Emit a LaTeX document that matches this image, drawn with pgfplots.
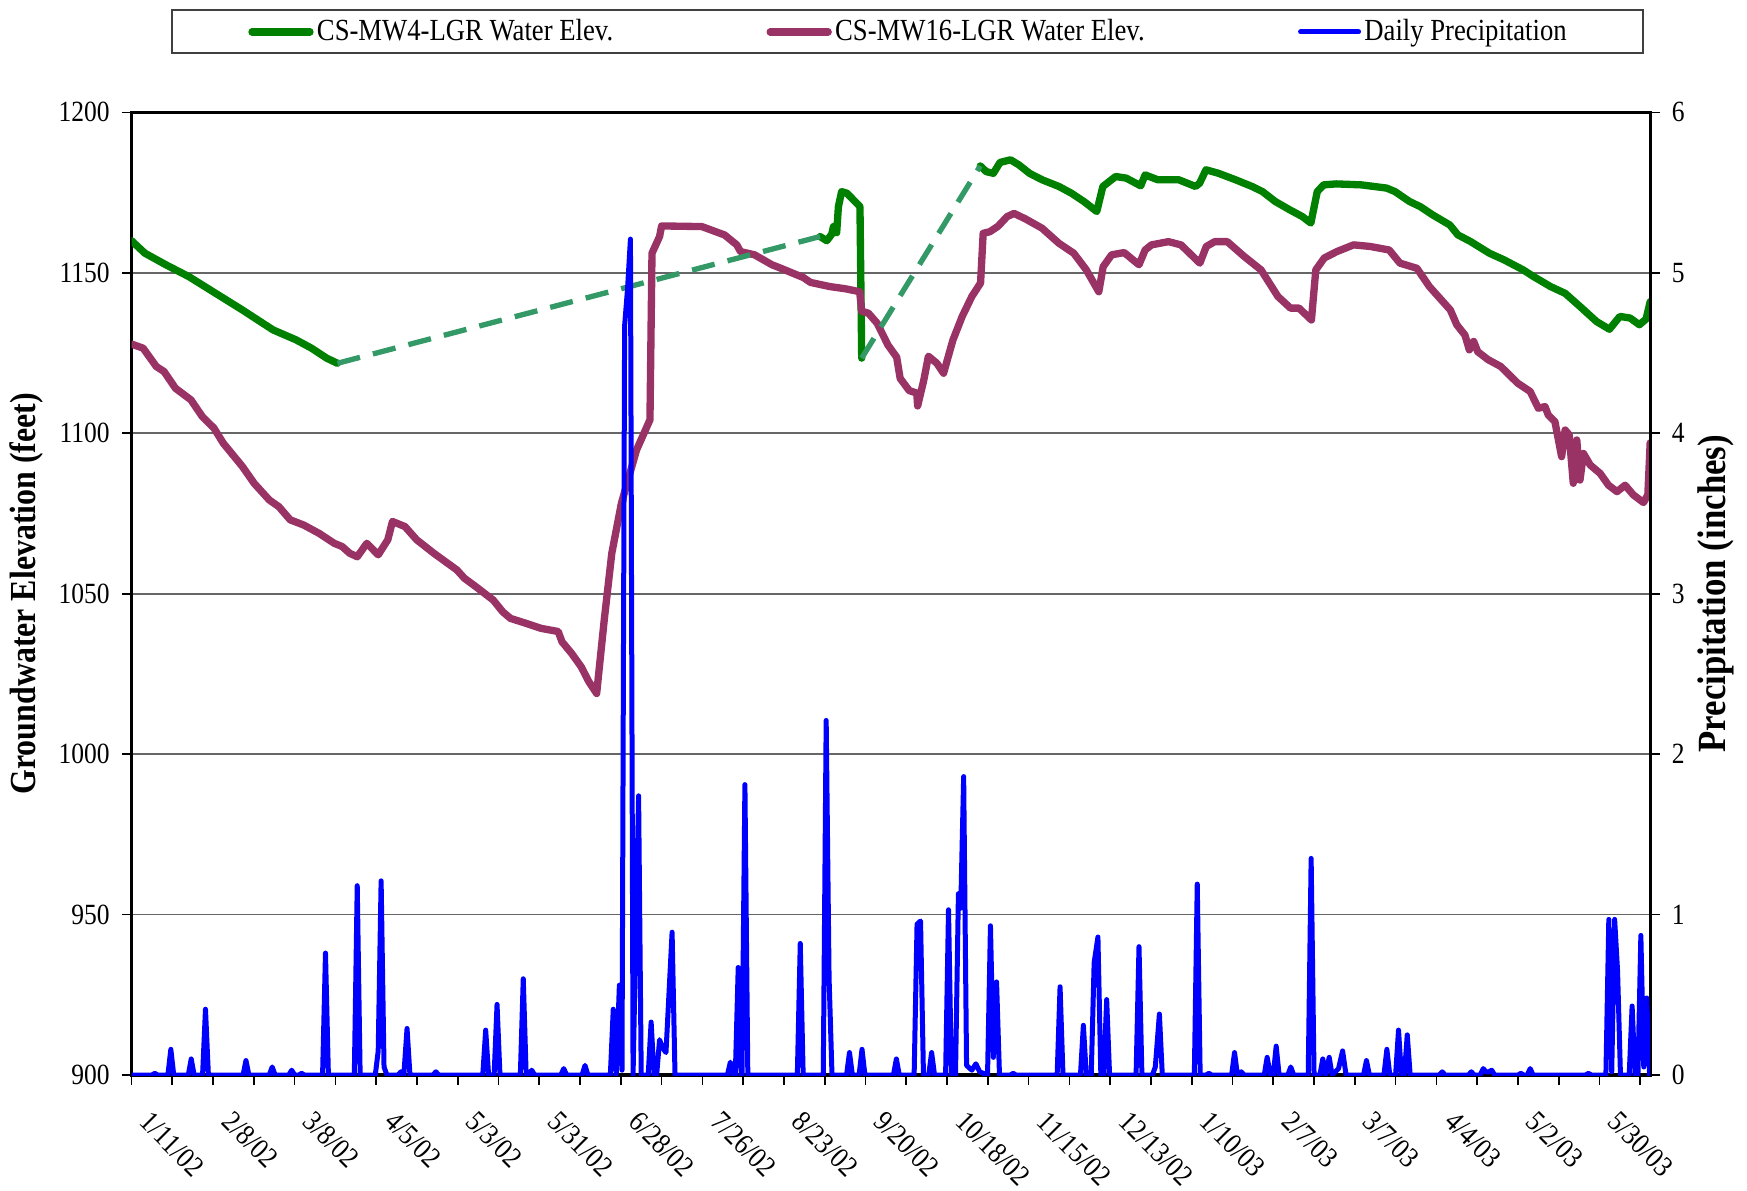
\documentclass[border=0pt]{standalone}
\usepackage{fontspec}
\setmainfont{Liberation Serif}[FakeStretch=0.87]
\usepackage{pgfplots}
\pgfplotsset{compat=1.18}
\definecolor{mwgreen}{RGB}{0,128,0}
\definecolor{mwpurple}{RGB}{153,51,102}
\definecolor{dashgreen}{RGB}{51,153,102}
\definecolor{precip}{RGB}{0,0,255}
\begin{document}
\begin{tikzpicture}
\path[use as bounding box] (0,0) rectangle (524.1pt,357pt);
\pgfplotsset{
  base/.style={
    at={(39.45pt,34.5pt)}, anchor=south west,
    scale only axis, width=455.6pt, height=288.8pt,
    xmin=-14, xmax=507.4,
    tick align=outside,
    major tick length=3pt, minor tick length=3pt,
    tick style={black, line width=0.5pt},
    minor tick style={black, line width=0.5pt},
    axis line style={black, line width=1pt},
    ticklabel style={font=\fontsize{8.8}{10}\selectfont},
    /pgf/number format/assume math mode=true,
    /pgf/number format/1000 sep={},
  },
}
\begin{axis}[base,
  ymin=900, ymax=1200, ytick={900,950,...,1200},
  xtick={0,28,...,504},
  minor xtick={-14,14,...,490},
  xticklabels={1/11/02,2/8/02,3/8/02,4/5/02,5/3/02,5/31/02,6/28/02,7/26/02,8/23/02,9/20/02,10/18/02,11/15/02,12/13/02,1/10/03,2/7/03,3/7/03,4/4/03,5/2/03,5/30/03},
  xtick pos=left, ytick pos=left,
  ymajorgrids, grid style={black!60, line width=0.5pt},
  xticklabel style={xshift=-6pt, yshift=-2.5pt, rotate=-45, anchor=north west},
  every axis y label/.style={at={(axis description cs:0,0.5)}, xshift=-31.45pt, rotate=90, anchor=center, font=\bfseries\fontsize{11}{13}\selectfont},
  ylabel={Groundwater Elevation (feet)},
  unbounded coords=jump,
  legend columns=3,
  legend style={
    at={(axis description cs:0.5,1)}, anchor=south, xshift=5pt, yshift=17.4pt,
    draw=black!75, line width=0.6pt, fill=white,
    font=\fontsize{9.2}{10}\selectfont,
    inner xsep=23pt, inner ysep=1.5pt,
    /tikz/every odd column/.append style={column sep=1pt},
    /tikz/every even column/.append style={column sep=46pt},
    nodes={inner ysep=1pt, inner xsep=0pt},
  },
  legend image code/.code={\draw[#1, line cap=round] (0pt,0pt) -- (17.4pt,0pt);},
]
\addplot[mwgreen, line width=2.2pt, line join=round, line cap=round] table {
x y
-14 1160.0
-9.4 1156.1
-2.2 1152.5
5.7 1148.8
14.9 1143.6
24.1 1138.4
34.6 1132.2
42.5 1129.1
47.8 1126.5
53.0 1123.4
56.7 1121.8
100 nan
222.4 1161.3
224.7 1160.0
226.4 1162.0
227.0 1164.4
228.1 1162.5
228.7 1170.6
229.8 1175.3
231.6 1174.8
235.5 1171.2
236.1 1170.6
236.7 1123.4
250 nan
277.4 1183.3
279.5 1181.5
281.9 1181.0
284.2 1184.4
287.8 1185.2
290.7 1183.6
294.3 1181.0
298.6 1179.0
304.4 1176.9
308.7 1174.8
313.0 1172.2
317.4 1169.1
319.5 1176.9
323.9 1180.0
327.5 1179.5
332.5 1177.1
334.0 1180.5
338.3 1179.0
345.5 1179.0
351.3 1176.9
352.7 1177.9
354.9 1182.1
359.2 1181.0
365.0 1179.0
370.7 1176.9
374.3 1175.3
378.7 1172.2
383.7 1169.6
388.0 1167.5
390.9 1165.5
393.1 1175.3
395.3 1177.4
399.6 1177.7
408.2 1177.4
416.9 1176.4
419.8 1175.3
424.8 1172.2
428.5 1170.6
432.8 1168.0
438.6 1164.9
441.4 1161.8
445.8 1159.7
452.2 1156.1
457.3 1154.0
463.8 1150.9
467.4 1148.8
473.2 1145.7
478.2 1143.6
483.3 1139.5
489.0 1134.8
493.4 1132.4
497.0 1136.4
500.5 1135.9
503.7 1133.8
506.0 1135.6
507.4 1141.0
};
\addlegendentry{CS-MW4-LGR Water Elev.}
\addplot[mwpurple, line width=2.2pt, line join=round, line cap=round] table {
x y
-14 1127.8
-10 1126.5
-5.5 1120.8
-2.8 1119.2
1.1 1114.0
6.4 1110.4
10.3 1105.2
14.3 1101.6
17.5 1096.9
24.1 1089.6
28.1 1084.4
33.3 1079.2
36.6 1077.1
40.5 1073.0
45.1 1071.4
50.4 1068.8
55.6 1065.7
58.3 1064.7
60.9 1062.6
63.5 1061.5
66.8 1065.7
70.7 1062.1
74.0 1066.8
75.6 1072.5
79.9 1070.9
83.9 1066.8
89.8 1062.6
97.7 1057.4
100.3 1054.8
104.2 1052.2
110.2 1048.0
113.4 1044.4
116.1 1042.3
121.3 1040.8
126.6 1039.2
132.5 1038.2
133.8 1035.0
137.1 1031.4
140.4 1027.2
143.0 1022.6
145.7 1018.9
148.3 1041.8
150.9 1062.6
154.2 1078.2
159.4 1094.8
164.0 1104.2
164.7 1156.1
167.3 1161.3
168.0 1164.6
181.8 1164.4
186.6 1162.8
189.6 1161.8
193.8 1158.7
195.1 1156.6
199.9 1155.6
205.9 1152.5
208.7 1151.5
216.7 1148.5
219.1 1147.0
225.8 1145.7
231.2 1145.0
236.0 1144.1
236.7 1138.0
239.0 1137.4
242.0 1134.3
245.7 1127.5
248.7 1123.7
249.9 1117.1
253.0 1113.3
255.6 1112.5
255.9 1108.5
258.0 1116.5
259.6 1124.0
262.5 1121.8
264.8 1118.7
268.0 1129.0
271.2 1136.4
274.5 1142.6
277.5 1146.8
278.4 1162.3
280.7 1162.8
283.5 1164.5
286.6 1167.5
289.0 1168.5
292.9 1166.8
298.6 1163.9
304.4 1159.2
309.5 1156.1
313.8 1150.9
318.1 1144.1
319.6 1151.9
322.5 1155.6
326.8 1156.3
331.9 1152.5
334.0 1157.1
336.2 1158.7
342.0 1159.7
346.3 1158.7
352.8 1153.0
355.0 1158.2
357.9 1159.7
362.2 1159.7
368.0 1155.1
373.8 1150.9
379.6 1142.6
383.9 1139.0
386.8 1139.0
391.1 1135.3
392.6 1150.9
395.5 1154.6
399.8 1156.6
405.6 1158.7
411.3 1158.2
417.8 1157.1
421.5 1153.0
427.3 1151.4
431.6 1145.7
438.8 1138.4
441.0 1133.8
443.8 1130.6
445.3 1126.0
446.8 1128.6
448.2 1125.4
451.8 1122.9
456.1 1120.8
461.9 1115.6
466.2 1113.0
469.0 1107.8
471.3 1108.3
472.4 1105.7
474.7 1103.6
477.0 1092.7
478.2 1101.0
479.6 1099.5
481.0 1084.4
482.2 1097.9
483.3 1085.4
484.5 1093.7
486.8 1090.1
490.2 1087.5
493.1 1083.8
496.0 1081.8
498.8 1083.8
501.6 1080.8
505.1 1078.4
506.6 1080.8
507.4 1097.0
};
\addlegendentry{CS-MW16-LGR Water Elev.}
\addlegendimage{precip, line width=1.5pt}
\addlegendentry{Daily Precipitation}
\addplot[dashgreen, line width=1.6pt, dash pattern=on 7pt off 4pt, forget plot] coordinates {(56.7,1121.8) (222.4,1161.3)};
\addplot[dashgreen, line width=1.6pt, dash pattern=on 7pt off 4pt, forget plot] coordinates {(236.7,1123.4) (277.4,1183.3)};
\end{axis}
\begin{axis}[base,
  ymin=0, ymax=6, ytick={0,1,...,6},
  axis y line*=right, axis x line=none,
  every axis y label/.style={at={(axis description cs:1,0.5)}, xshift=19.8pt, rotate=90, anchor=center, font=\bfseries\fontsize{12}{14}\selectfont},
  ylabel={Precipitation (inches)},
]
\addplot[precip, line width=1.5pt, line join=round] coordinates {
(-14,0) (-7,0) (-6,0.01) (-5,0) (-1.5,0) (-0.5,0.16) (0.5,0) (5.5,0) (6.5,0.10) (7.5,0) (10.4,0) (11.4,0.41) (12.4,0) (24.3,0) (25.3,0.09) (26.3,0) (33.3,0) (34.3,0.05) (35.3,0) (40,0) (41,0.03) (42,0) (43.4,0) (44.4,0.01) (45.4,0) (51.6,0) (52.6,0.76) (53.6,0) (62.5,0) (63.5,1.18) (64.5,0) (69.7,0) (70.7,0.15) (71.7,1.21) (72.7,0.05) (73.7,0) (77.5,0) (78.5,0.02) (79.5,0) (80.6,0.29) (81.6,0) (89.5,0) (90.5,0.02) (91.5,0) (106.6,0) (107.6,0.28) (108.6,0) (110.5,0) (111.5,0.44) (112.5,0) (119.5,0) (120.5,0.60) (121.5,0) (122.4,0) (123.4,0.03) (124.4,0) (133.4,0) (134.4,0.04) (135.4,0) (140.7,0) (141.7,0.06) (142.7,0) (150.4,0) (151.4,0.41) (152.4,0) (153.5,0.56) (154.4,0.03) (155.3,4.67) (156.3,4.9) (157.3,5.21) (158.2,0) (159.2,0.93) (160.1,1.74) (161,0) (163.4,0) (164.4,0.33) (165.4,0) (166.3,0) (167.3,0.22) (168.3,0.17) (169.5,0.14) (171.6,0.89) (172.6,0) (190.6,0) (191.6,0.08) (192.6,0) (193.3,0) (194.3,0.67) (195.3,0) (195.6,0) (196.6,1.81) (197.6,0) (214.6,0) (215.6,0.82) (216.6,0) (223.5,0) (224.5,2.21) (225.5,0.6) (226.5,0) (231.5,0) (232.5,0.14) (233.5,0) (235.8,0) (236.8,0.16) (237.8,0) (247.6,0) (248.6,0.10) (249.6,0) (254.7,0) (255.7,0.94) (256.9,0.96) (257.9,0) (259.7,0) (260.7,0.14) (261.7,0) (265.5,0) (266.5,1.03) (267.5,0) (268.9,0) (269.9,1.13) (270.7,1.04) (271.7,1.86) (272.7,0.06) (274.5,0.03) (275.9,0.07) (277.2,0.02) (279.9,0) (280.9,0.93) (281.9,0.11) (283,0.58) (284,0) (287.7,0) (288.7,0.01) (289.7,0) (303.8,0) (304.8,0.55) (305.8,0) (311.8,0) (312.8,0.31) (313.8,0) (315.5,0) (316.5,0.70) (317.8,0.86) (318.8,0) (319.8,0) (320.8,0.47) (321.8,0) (330.9,0) (331.9,0.80) (332.9,0) (336.5,0) (337.5,0.05) (338.9,0.38) (339.9,0) (350.9,0) (351.9,1.19) (352.9,0) (354.9,0) (355.9,0.01) (356.9,0) (363.7,0) (364.7,0.14) (365.7,0) (367,0.02) (368,0) (374.9,0) (375.9,0.11) (377,0) (378,0) (379,0.18) (380,0) (383,0) (384,0.05) (385,0) (390,0) (391,1.35) (392,0) (394,0) (395,0.10) (396,0) (397.2,0.11) (398.2,0) (400.4,0.04) (401.8,0.15) (403,0) (409,0) (410,0.09) (411,0) (416,0) (417,0.16) (418,0) (420,0) (421,0.28) (422,0) (423,0) (424,0.25) (425,0) (435,0) (436,0.02) (437,0) (445,0) (446,0.02) (447,0) (449,0) (450.1,0.04) (451,0.02) (452,0.02) (453,0.03) (454,0) (462,0) (463,0.01) (464,0) (465.2,0) (466.2,0.04) (467.2,0) (485.2,0) (486.2,0.01) (487.2,0) (492.2,0) (493.2,0.97) (494.2,0.02) (495.2,0.97) (496.2,0.65) (497.2,0) (500.2,0) (501.2,0.43) (502.2,0) (503.2,0) (504.2,0.87) (505.2,0.05) (506.2,0.48) (507.2,0) (507.4,0)
};
\end{axis}
\end{tikzpicture}
\end{document}
